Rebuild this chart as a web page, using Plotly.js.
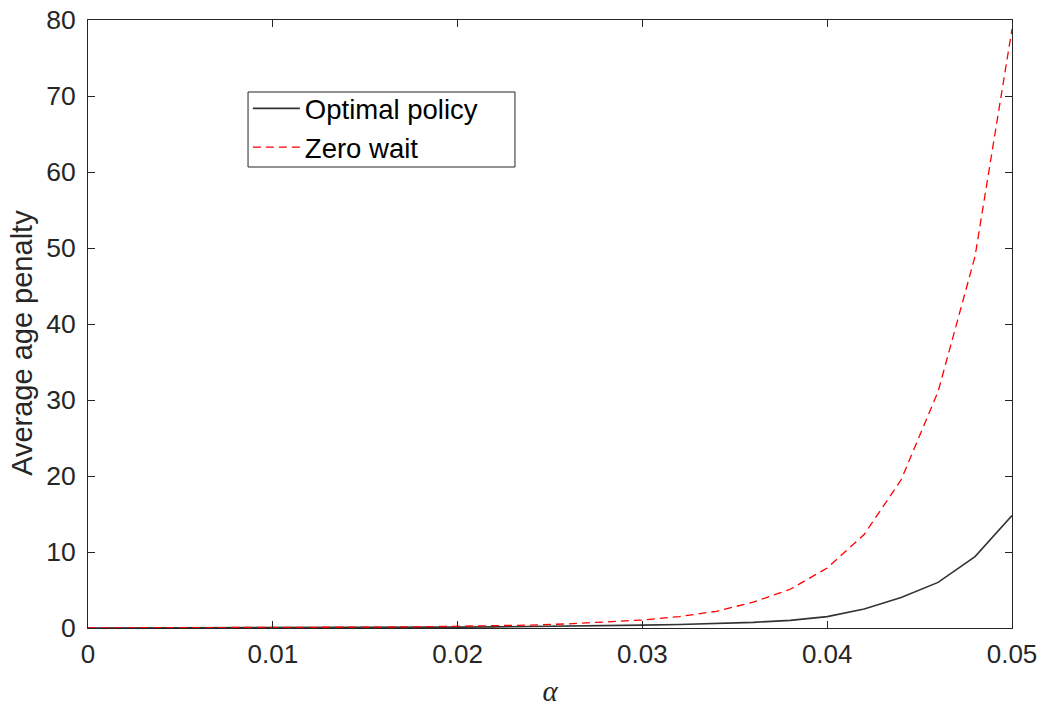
<!DOCTYPE html>
<html>
<head>
<meta charset="utf-8">
<script src="https://cdn.plot.ly/plotly-3.0.1.min.js"></script>
<style>html,body{margin:0;padding:0;background:#fff;}#chart{width:1039px;height:707px;}</style>
</head>
<body>
<div id="chart"></div>
<script>
const alpha = [0, 0.002, 0.004, 0.006, 0.008, 0.010, 0.012, 0.014, 0.016, 0.018, 0.020, 0.022, 0.024, 0.026, 0.028, 0.030, 0.032, 0.034, 0.036, 0.038, 0.040, 0.042, 0.044, 0.046, 0.048, 0.050];
const optimalPolicy = [0.005, 0.008, 0.01, 0.015, 0.02, 0.03, 0.04, 0.05, 0.07, 0.09, 0.12, 0.15, 0.19, 0.24, 0.3, 0.38, 0.47, 0.58, 0.74, 1.0, 1.5, 2.5, 4.0, 6.0, 9.4, 14.8];
const zeroWait = [0.01, 0.015, 0.02, 0.03, 0.04, 0.05, 0.07, 0.09, 0.12, 0.16, 0.21, 0.28, 0.38, 0.55, 0.78, 1.05, 1.5, 2.2, 3.4, 5.1, 7.9, 12.3, 19.5, 31.1, 48.9, 78.8];
const seriesNames = ["Optimal policy", "Zero wait"];
const xTicks = [0, 0.01, 0.02, 0.03, 0.04, 0.05];
const xTickLabels = ["0", "0.01", "0.02", "0.03", "0.04", "0.05"];
const yTicks = [0, 10, 20, 30, 40, 50, 60, 70, 80];
const yTitle = "Average age penalty";
const xTitle = "α";

const axisColor = '#262626';
const traces = [
  {x: alpha, y: optimalPolicy, name: seriesNames[0], mode: 'lines', line: {color: '#333333', width: 1.6}},
  {x: alpha, y: zeroWait, name: seriesNames[1], mode: 'lines', line: {color: '#ff0000', width: 1.3, dash: '8px,5px'}}
];
const layout = {
  width: 1039, height: 707,
  margin: {l: 88, r: 27, t: 20, b: 79},
  paper_bgcolor: '#fff', plot_bgcolor: '#fff',
  font: {family: 'Liberation Sans, Arial, sans-serif', color: axisColor, size: 26},
  showlegend: true,
  legend: {x: 0.173, y: 0.8947, xanchor: 'left', yanchor: 'top', bgcolor: 'rgba(0,0,0,0)', borderwidth: 0,
           itemwidth: 47, font: {size: 27.5, color: '#000'}, tracegroupgap: 0},
  shapes: [{type: 'rect', xref: 'paper', yref: 'paper', x0: 0.1732, x1: 0.4621, y0: 0.7582, y1: 0.8816,
            line: {color: '#262626', width: 1}, fillcolor: '#fff', layer: 'above'}],
  annotations: [{text: yTitle, xref: 'paper', yref: 'paper', x: -0.0714, y: 0.469, xanchor: 'center', yanchor: 'middle',
                 textangle: -90, showarrow: false, font: {size: 29, color: axisColor}}],
  xaxis: {range: [0, 0.05], tickvals: xTicks, ticktext: xTickLabels, ticks: 'inside', ticklen: 7, tickcolor: axisColor,
          showline: true, linecolor: axisColor, linewidth: 1, mirror: 'ticks', showgrid: false, zeroline: false,
          tickfont: {size: 26}, ticklabelstandoff: 3,
          title: {text: xTitle, font: {family: 'Liberation Serif, Times New Roman, serif', size: 29, style: 'italic'}, standoff: 14}},
  yaxis: {range: [0, 80], tickvals: yTicks, ticks: 'inside', ticklen: 7, tickcolor: axisColor,
          showline: true, linecolor: axisColor, linewidth: 1, mirror: 'ticks', showgrid: false, zeroline: false,
          tickfont: {size: 26.5}, ticklabelstandoff: 6}
};
Plotly.newPlot('chart', traces, layout, {displayModeBar: false, staticPlot: true});
</script>
</body>
</html>
